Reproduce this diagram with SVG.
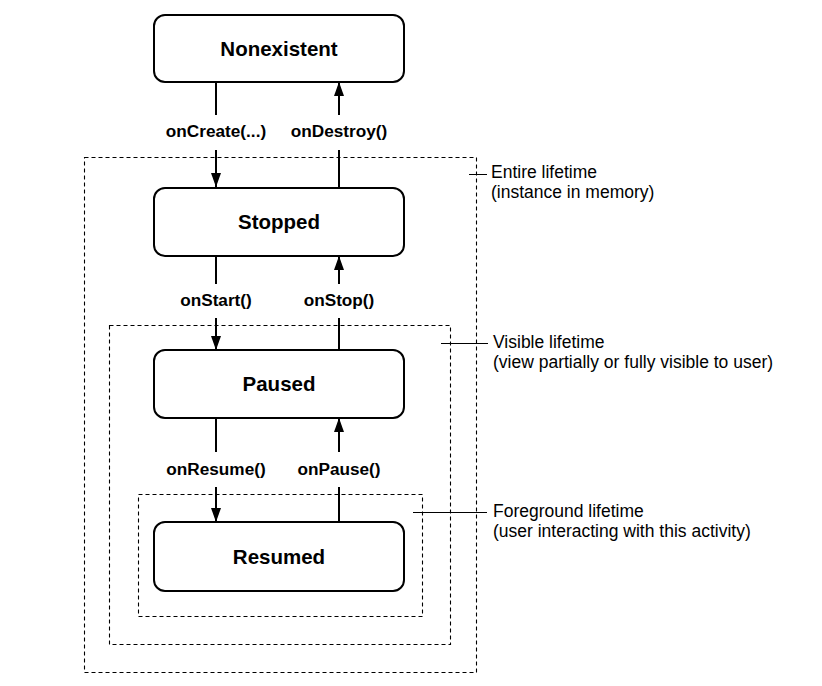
<svg xmlns="http://www.w3.org/2000/svg" width="822" height="686" viewBox="0 0 822 686">
<style>
.node rect{fill:#fff;stroke:#000;stroke-width:2}
.node text{font-family:"Liberation Sans",Arial,sans-serif;font-weight:bold;font-size:20.5px;text-anchor:middle;fill:#000}
.lbl{font-family:"Liberation Sans",Arial,sans-serif;font-weight:bold;font-size:17.2px;text-anchor:middle;fill:#000}
.note{font-family:"Liberation Sans",Arial,sans-serif;font-size:17.5px;fill:#000}
.dash{fill:none;stroke:#000;stroke-width:1.1;stroke-dasharray:4 3}
.tick{stroke:#000;stroke-width:1}
.conn{stroke:#000;stroke-width:2;fill:none}
</style>
<defs>
<marker id="arr" viewBox="0 0 14 10" markerWidth="14" markerHeight="10" refX="14" refY="5" orient="auto" markerUnits="userSpaceOnUse">
<path d="M0,0 L14,5 L0,10 z" fill="#000"/>
</marker>
</defs>
<rect width="822" height="686" fill="#fff"/>
<g id="lifetimes">
<rect class="dash" x="84.5" y="157.5" width="392" height="515"/>
<rect class="dash" x="109.5" y="325.5" width="341" height="319"/>
<rect class="dash" x="138.5" y="494.5" width="284" height="122"/>
<line class="tick" x1="469" y1="174.5" x2="487" y2="174.5"/>
<line class="tick" x1="441" y1="343.5" x2="488" y2="343.5"/>
<line class="tick" x1="413" y1="512.5" x2="487" y2="512.5"/>
<text class="note" x="491" y="178">Entire lifetime</text>
<text class="note" x="491" y="198">(instance in memory)</text>
<text class="note" x="493" y="348">Visible lifetime</text>
<text class="note" x="493" y="368">(view partially or fully visible to user)</text>
<text class="note" x="493" y="517">Foreground lifetime</text>
<text class="note" x="493" y="537">(user interacting with this activity)</text>
</g>
<g id="connectors">
<line class="conn" x1="216" y1="82" x2="216" y2="115"/>
<line class="conn" x1="216" y1="150" x2="216" y2="187" marker-end="url(#arr)"/>
<line class="conn" x1="339" y1="187" x2="339" y2="150"/>
<line class="conn" x1="339" y1="115" x2="339" y2="82" marker-end="url(#arr)"/>
<text class="lbl" x="216" y="137">onCreate(...)</text>
<text class="lbl" x="339" y="137">onDestroy()</text>

<line class="conn" x1="216" y1="256" x2="216" y2="284"/>
<line class="conn" x1="216" y1="318" x2="216" y2="350" marker-end="url(#arr)"/>
<line class="conn" x1="339" y1="350" x2="339" y2="318"/>
<line class="conn" x1="339" y1="284" x2="339" y2="256" marker-end="url(#arr)"/>
<text class="lbl" x="216" y="306">onStart()</text>
<text class="lbl" x="339" y="306">onStop()</text>

<line class="conn" x1="216" y1="418" x2="216" y2="452"/>
<line class="conn" x1="216" y1="487" x2="216" y2="522" marker-end="url(#arr)"/>
<line class="conn" x1="339" y1="522" x2="339" y2="487"/>
<line class="conn" x1="339" y1="452" x2="339" y2="418" marker-end="url(#arr)"/>
<text class="lbl" x="216" y="475">onResume()</text>
<text class="lbl" x="339" y="475">onPause()</text>
</g>
<g id="nonexistent" class="node">
<rect x="154" y="15" width="250" height="67" rx="11"/>
<text x="279" y="56">Nonexistent</text>
</g>
<g id="stopped" class="node">
<rect x="154" y="188" width="250" height="68" rx="11"/>
<text x="279" y="229">Stopped</text>
</g>
<g id="paused" class="node">
<rect x="154" y="350" width="250" height="68" rx="11"/>
<text x="279" y="391">Paused</text>
</g>
<g id="resumed" class="node">
<rect x="154" y="522" width="250" height="69" rx="11"/>
<text x="279" y="564">Resumed</text>
</g>
</svg>
